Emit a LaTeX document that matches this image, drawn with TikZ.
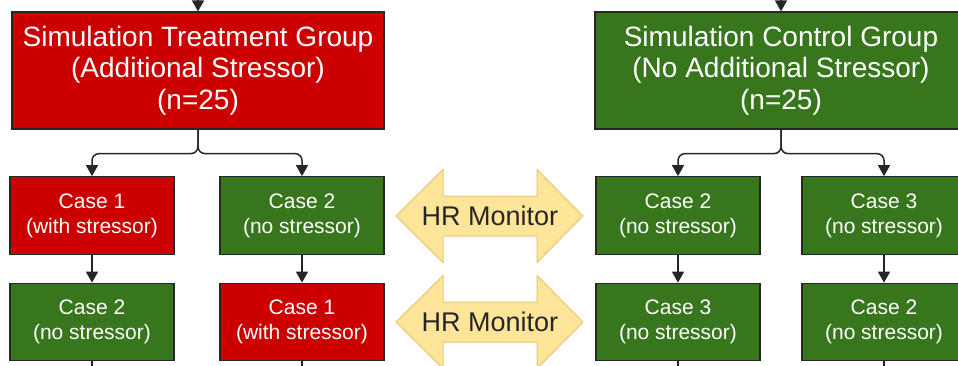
\documentclass[tikz,border=0pt]{standalone}
\usepackage{fontspec}
\setmainfont{Liberation Sans}
\usetikzlibrary{arrows.meta, positioning, calc}
\definecolor{stressred}{HTML}{CC0000}
\definecolor{calmgreen}{HTML}{38761D}
\definecolor{monfill}{HTML}{FFE599}
\definecolor{monedge}{HTML}{E6C675}
\definecolor{linkgray}{HTML}{262626}

\begin{document}
\begin{tikzpicture}[x=1pt, y=-1pt,
  grpbox/.style={draw=linkgray, line width=1.2pt, text=white, align=center,
    minimum width=372pt, minimum height=117pt, inner sep=0pt,
    font=\fontsize{28}{31.5}\selectfont},
  casebox/.style={draw=linkgray, line width=1.2pt, text=white, align=center,
    minimum width=164pt, minimum height=77.5pt, inner sep=0pt,
    font=\fontsize{21}{25}\selectfont},
  link/.style={draw=linkgray, line width=1.5pt, -{Triangle[width=12pt,length=11pt]}},
  hrarrow/.style={fill=monfill, draw=monedge, line width=1pt},
  hrtext/.style={font=\fontsize{27}{30}\selectfont, text=black!85}]
\useasboundingbox (0,0) rectangle (958,365);
% Group boxes
\node[grpbox, fill=stressred] (trt) at (198,70.5)
  {Simulation Treatment Group\\(Additional Stressor)\\(n=25)};
\node[grpbox, fill=calmgreen] (ctl) at (781,70.5)
  {Simulation Control Group\\(No Additional Stressor)\\(n=25)};
% Case boxes, treatment side
\node[casebox, fill=stressred] (t11) at (92,215.5) {Case 1\\(with stressor)};
\node[casebox, fill=calmgreen] (t12) at (302,215.5) {Case 2\\(no stressor)};
\node[casebox, fill=calmgreen] (t21) at (92,322) {Case 2\\(no stressor)};
\node[casebox, fill=stressred] (t22) at (302,322) {Case 1\\(with stressor)};
% Case boxes, control side
\node[casebox, fill=calmgreen] (c11) at (678,215.5) {Case 2\\(no stressor)};
\node[casebox, fill=calmgreen] (c12) at (884,215.5) {Case 3\\(no stressor)};
\node[casebox, fill=calmgreen] (c21) at (678,322) {Case 3\\(no stressor)};
\node[casebox, fill=calmgreen] (c22) at (884,322) {Case 2\\(no stressor)};
% Incoming and outgoing stubs
\coordinate (trtin) at (198,-20);
\coordinate (ctlin) at (781,-20);
\draw[link] (trtin) -- (trt.north);
\draw[link] (ctlin) -- (ctl.north);
\foreach \b in {t21,t22,c21,c22}
  \draw[draw=linkgray, line width=1.5pt] (\b.south) -- ++(0,20);
% Branches
\draw[link, rounded corners=7pt] (trt.south) -- ++(0,24) -| (t11.north);
\draw[link, rounded corners=7pt] (trt.south) -- ++(0,24) -| (t12.north);
\draw[link, rounded corners=7pt] (ctl.south) -- ++(0,24) -| (c11.north);
\draw[link, rounded corners=7pt] (ctl.south) -- ++(0,24) -| (c12.north);
\draw[link] (t11) -- (t21);
\draw[link] (t12) -- (t22);
\draw[link] (c11) -- (c21);
\draw[link] (c12) -- (c22);
% HR monitor double arrows
\foreach \y/\n in {216/hr1, 322/hr2} {
  \draw[hrarrow] (396,\y) -- ++(47,46.5) -- ++(0,-26.5) -- ++(94,0)
    -- ++(0,26.5) -- ++(46,-46.5) -- ++(-46,-46.5) -- ++(0,26.5)
    -- ++(-94,0) -- ++(0,-26.5) -- cycle;
  \node[hrtext] (\n) at (490,\y) {HR Monitor};
}
\end{tikzpicture}
\end{document}
